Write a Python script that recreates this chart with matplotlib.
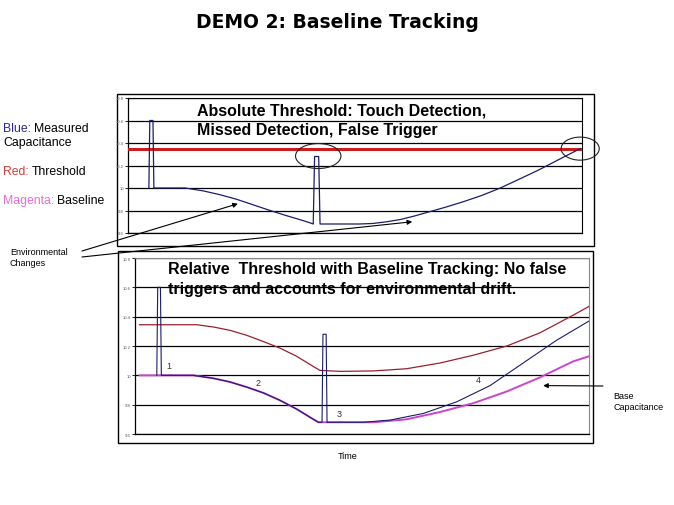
import matplotlib
matplotlib.use("Agg")
from matplotlib import pyplot as plt
from matplotlib.patches import Rectangle, Ellipse

plt.rcParams['font.family'] = ['Liberation Sans', 'DejaVu Sans']

# ---------------- data (time units 0..100, capacitance values) ----------------
yticks = [9.6, 9.8, 10.0, 10.2, 10.4, 10.6, 10.8]
ytick_labels = ["9.6", "9.8", "10", "10.2", "10.4", "10.6", "10.8"]

# top panel: absolute threshold
top_red_t = [0, 100]
top_red_v = [10.35, 10.35]

top_blue_t = [4.6, 4.8, 5.5, 5.7, 12.6, 16.6, 20.3, 23.9, 27.6, 31.3, 35.0, 38.6, 40.1, 40.8,
              41.1, 42.0, 42.3, 51, 54, 57, 60, 63, 66.5, 70, 74, 78, 82, 86, 90.7, 95, 99.6]
top_blue_v = [10.0, 10.6, 10.6, 10.0, 10.0, 9.974, 9.94, 9.90, 9.85, 9.80, 9.753, 9.71, 9.69, 9.68,
              10.28, 10.28, 9.68, 9.68, 9.685, 9.70, 9.72, 9.75, 9.79, 9.83, 9.88, 9.935, 10.0,
              10.075, 10.165, 10.255, 10.35]

# bottom panel: relative threshold with baseline tracking
bot_red_t = [1, 9.9, 13.6, 17.2, 20.9, 24.6, 28.3, 31.9, 35.6, 39.3, 40.7, 45.2, 52.5, 59.8,
             67.2, 74.5, 81.9, 89.2, 96.5, 100]
bot_red_v = [10.345, 10.345, 10.345, 10.33, 10.307, 10.273, 10.23, 10.186, 10.13, 10.06, 10.034,
             10.027, 10.03, 10.045, 10.084, 10.137, 10.2, 10.29, 10.41, 10.47]

bot_mag_t = [1, 12.8, 17.2, 20.9, 24.6, 28.3, 31.9, 35.6, 39.3, 40.4, 45.2, 52.5, 59.8, 67.2,
             74.5, 81.9, 89.2, 96.5, 100]
bot_mag_v = [10.0, 10.0, 9.98, 9.955, 9.92, 9.88, 9.83, 9.77, 9.70, 9.68, 9.68, 9.68, 9.70, 9.75,
             9.81, 9.89, 9.986, 10.095, 10.13]

bot_blue_t = [4.8, 5.0, 5.6, 5.8, 12.8, 17.2, 20.9, 24.6, 28.3, 31.9, 35.6, 39.3, 40.4, 41.2,
              41.4, 42.1, 42.3, 50.3, 56.2, 63.5, 70.9, 78.2, 85.5, 92.9, 100]
bot_blue_v = [10.0, 10.6, 10.6, 10.0, 10.0, 9.98, 9.955, 9.92, 9.88, 9.83, 9.77, 9.70, 9.68, 9.68,
              10.28, 10.28, 9.68, 9.68, 9.695, 9.74, 9.82, 9.93, 10.084, 10.24, 10.37]

step_labels = ["1", "2", "3", "4"]
step_t = [7.4, 27, 45, 75.6]
step_v = [10.07, 9.95, 9.74, 9.97]

navy = "#1c1c6c"

fig = plt.figure(figsize=(6.74, 5.06), dpi=100)
W, H = 674.0, 506.0


def fx(px):
    return px / W


def fy(py):
    return 1 - py / H


bg = fig.add_axes([0, 0, 1, 1])
bg.set_xlim(0, 1)
bg.set_ylim(0, 1)
bg.axis('off')

# outer boxes around each chart
bg.add_patch(Rectangle((fx(117), fy(247)), fx(594) - fx(117), fy(95) - fy(247),
                       fill=False, lw=1.0, ec='black'))
bg.add_patch(Rectangle((fx(118), fy(444)), fx(593) - fx(118), fy(252) - fy(444),
                       fill=False, lw=1.0, ec='black'))


def style_axes(ax, spine_col):
    ax.set_xlim(0, 100)
    ax.set_ylim(9.6, 10.8)
    ax.set_yticks(yticks)
    ax.set_yticklabels(ytick_labels, fontsize=3, color='#555555')
    ax.set_xticks([])
    ax.tick_params(axis='y', length=2, width=0.6, pad=1)
    ax.grid(axis='y', color='black', lw=0.9)
    ax.set_axisbelow(True)
    for s in ['top', 'right']:
        ax.spines[s].set_color(spine_col)
        ax.spines[s].set_linewidth(0.8)
    for s in ['left', 'bottom']:
        ax.spines[s].set_linewidth(0.9)
    ax.patch.set_alpha(0)


# ---------------- top chart ----------------
ax1 = fig.add_axes([fx(128), fy(234), fx(582) - fx(128), fy(99) - fy(234)])
style_axes(ax1, 'black')
ax1.plot(top_red_t, top_red_v, color='#c81e1e', lw=2.2, zorder=3)
ax1.plot(top_blue_t, top_blue_v, color=navy, lw=0.9, zorder=4)
ax1.text(15.2, 10.76, "Absolute Threshold: Touch Detection,\nMissed Detection, False Trigger",
         fontsize=11.5, fontweight='bold', va='top', ha='left', linespacing=1.4)
ax1.add_patch(Ellipse((41.9, 10.284), 10.0, 0.222, fill=False, lw=0.8, ec='#222222',
                      clip_on=False, zorder=5))
ax1.add_patch(Ellipse((99.6, 10.35), 8.4, 0.205, fill=False, lw=0.8, ec='#222222',
                      clip_on=False, zorder=5))

# ---------------- bottom chart ----------------
ax2 = fig.add_axes([fx(135), fy(435), fx(589) - fx(135), fy(259) - fy(435)])
style_axes(ax2, '#888888')
ax2.plot(bot_red_t, bot_red_v, color='#9a2030', lw=0.9, zorder=3)
ax2.plot(bot_mag_t, bot_mag_v, color='#cc44cc', lw=1.4, zorder=3)
ax2.plot(bot_blue_t, bot_blue_v, color=navy, lw=0.8, zorder=4)
ax2.text(7.3, 10.78, "Relative  Threshold with Baseline Tracking: No false\n"
         "triggers and accounts for environmental drift.",
         fontsize=11.5, fontweight='bold', va='top', ha='left', linespacing=1.4)
for lab, t, v in zip(step_labels, step_t, step_v):
    ax2.text(t, v, lab, fontsize=6.5, color='#333333', ha='center', va='center')

# ---------------- figure texts ----------------
fig.text(0.5, fy(22), "DEMO 2: Baseline Tracking", family='DejaVu Sans',
         fontsize=13.5, fontweight='bold', ha='center', va='center')
fig.text(fx(348), fy(457), "Time", fontsize=6.5, ha='center', va='center')


def two_colour(x, y, first, col, rest):
    t1 = bg.text(fx(x), fy(y), first, color=col, fontsize=8.8, va='baseline', ha='left')
    bg.annotate(rest, xy=(1, 0), xycoords=t1, xytext=(2, 0), textcoords='offset points',
                fontsize=8.8, va='bottom', ha='left', color='black')


two_colour(3, 132, "Blue:", '#2a2a8a', "Measured")
bg.text(fx(3), fy(146), "Capacitance", fontsize=8.8, va='baseline')
two_colour(3, 175, "Red:", '#c8403c', "Threshold")
two_colour(3, 204, "Magenta:", '#e070d0', "Baseline")

bg.text(fx(10), fy(248), "Environmental\nChanges", fontsize=6.5, va='top', linespacing=1.3)
bg.text(fx(613), fy(392), "Base\nCapacitance", fontsize=6.5, va='top', linespacing=1.3)

arrow = dict(arrowstyle='-|>', lw=0.8, color='black', mutation_scale=7, shrinkA=0, shrinkB=0)
ax1.annotate("", xy=(24.2, 9.86), xytext=(fx(82), fy(252)), textcoords='figure fraction',
             arrowprops=arrow, annotation_clip=False)
ax1.annotate("", xy=(62.6, 9.70), xytext=(fx(82), fy(258)), textcoords='figure fraction',
             arrowprops=arrow, annotation_clip=False)
ax2.annotate("", xy=(89.9, 9.93), xytext=(fx(603), fy(387)), textcoords='figure fraction',
             arrowprops=arrow, annotation_clip=False)

fig.savefig("out.png", dpi=100)
